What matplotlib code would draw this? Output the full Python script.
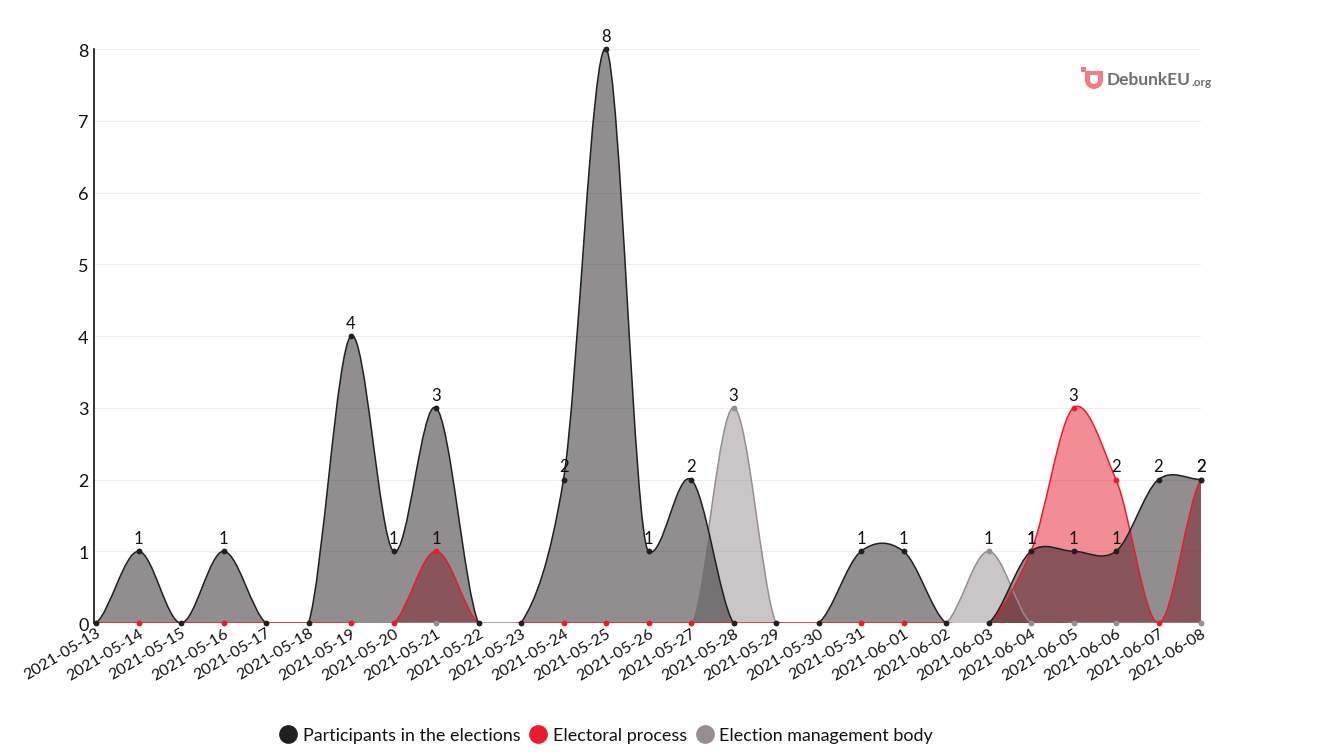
import numpy as np
import pandas as pd
import matplotlib
matplotlib.use("Agg")
import matplotlib.pyplot as plt
from matplotlib.path import Path
from matplotlib.patches import PathPatch, Rectangle, Wedge
from matplotlib.lines import Line2D
from matplotlib.transforms import ScaledTranslation

plt.rcParams['font.family'] = ['Lato', 'DejaVu Sans']

dates = [d.strftime('%Y-%m-%d') for d in pd.date_range('2021-05-13', '2021-06-08')]
participants = [0, 1, 0, 1, 0, 0, 4, 1, 3, 0, 0, 2, 8, 1, 2, 0, 0, 0, 1, 1, 0, 0, 1, 1, 1, 2, 2]
electoral    = [0, 0, 0, 0, 0, 0, 0, 0, 1, 0, 0, 0, 0, 0, 0, 0, 0, 0, 0, 0, 0, 0, 1, 3, 2, 0, 2]
management   = [0, 0, 0, 0, 0, 0, 0, 0, 0, 0, 0, 0, 0, 0, 0, 3, 0, 0, 0, 0, 0, 1, 0, 0, 0, 0, 0]
names = ['Participants in the elections', 'Electoral process', 'Election management body']
colors = ['#231F20', '#E71D2E', '#968D90']
series = [participants, electoral, management]

W, H = 1318, 755
fig = plt.figure(figsize=(W / 100, H / 100), dpi=100, facecolor='white')
L, R, T, B = 94, 1201, 49, 623
ax = fig.add_axes([L / W, 1 - B / H, (R - L) / W, (B - T) / H])
ax.set_xlim(-2 / 42.5, 26)
ax.set_ylim(0, 8)


def spline_verts(vals):
    """Cardinal spline through the values, as cubic Bezier segments; slopes at
    local extremes are limited so that a curve does not dive past its point."""
    y = np.asarray(vals, float)
    n = len(y)
    x = np.arange(n, dtype=float)
    m = np.zeros(n)
    for i in range(1, n - 1):
        d0, d1 = y[i] - y[i - 1], y[i + 1] - y[i]
        m[i] = (d0 + d1) / 2
        if d0 * d1 < 0:
            lim = min(abs(d0), abs(d1)) / 2
            m[i] = np.clip(m[i], -lim, lim)
    m[0] = (y[1] - y[0]) / 2
    m[-1] = (y[-1] - y[-2]) / 2
    m = m * 0.9
    verts = [(x[0], y[0])]
    codes = [Path.MOVETO]
    for i in range(n - 1):
        verts += [(x[i] + 1 / 3, y[i] + m[i] / 3),
                  (x[i + 1] - 1 / 3, y[i + 1] - m[i + 1] / 3),
                  (x[i + 1], y[i + 1])]
        codes += [Path.CURVE4] * 3
    return verts, codes


# drawn back to front: management, electoral, participants
order = [2, 1, 0]
for s in order:
    v, c = series[s], colors[s]
    verts, codes = spline_verts(v)
    fill_v = verts + [(len(v) - 1, 0), (0, 0), (0, 0)]
    fill_c = codes + [Path.LINETO, Path.LINETO, Path.CLOSEPOLY]
    ax.add_patch(PathPatch(Path(fill_v, fill_c), facecolor=c, edgecolor='none', alpha=0.5, zorder=2))
for s in order:
    verts, codes = spline_verts(series[s])
    ax.add_patch(PathPatch(Path(verts, codes), facecolor='none', edgecolor=colors[s], lw=1.1, zorder=3))

# markers: every non-zero value, and at each date the first series that is zero
arr = np.array(series)
for s in order:
    v, c = series[s], colors[s]
    xs, ys = [], []
    for i, val in enumerate(v):
        first_zero = np.argmax(arr[:, i] == 0) if np.any(arr[:, i] == 0) else -1
        if val > 0 or first_zero == s:
            xs.append(i)
            ys.append(val)
    ax.plot(xs, ys, ls='none', marker='o', ms=4.2, color=c, mec='none', zorder=5, clip_on=False)
    for xi, yi in zip(xs, ys):
        if yi > 0:
            ax.annotate(str(yi), (xi, yi), xytext=(0, 3), textcoords='offset points',
                        ha='center', va='bottom', fontsize=12, color='#111111',
                        zorder=6, annotation_clip=False)

ax.set_yticks(range(9))
ax.set_xticks(range(len(dates)))
ax.set_xticklabels(dates, rotation=31, ha='right', va='top', rotation_mode='anchor',
                   fontsize=11.5, color='#111111')
ax.tick_params(axis='x', length=0, pad=2.5)
ax.tick_params(axis='y', length=0, pad=4, labelsize=13, labelcolor='#111111')
shift = ScaledTranslation(0, -0.8 / 72, fig.dpi_scale_trans)
for lab in ax.get_yticklabels():
    lab.set_transform(lab.get_transform() + shift)
ax.grid(axis='y', color='#EDEDED', lw=0.8, zorder=0)
ax.set_axisbelow(True)
for sp in ['top', 'right', 'bottom']:
    ax.spines[sp].set_visible(False)
ax.spines['left'].set_linewidth(1.2)
ax.spines['left'].set_color('#111111')

# legend
handles = [Line2D([], [], ls='none', marker='o', ms=13.5, color=c, mec='none') for c in colors]
fig.legend(handles, names, loc='center', bbox_to_anchor=(606 / W, 1 - 735.5 / H), ncol=3, frameon=False,
           fontsize=12.9, handlelength=1.0, handletextpad=0.3, columnspacing=0.5, labelcolor='#111111')

# logo
pink = '#F47C80'
lg = fig.add_axes([0, 0, 1, 1], facecolor='none')
lg.set_xlim(0, W)
lg.set_ylim(H, 0)
lg.axis('off')
lg.add_patch(Rectangle((1081, 67), 5, 5, color=pink, lw=0))
lg.add_patch(Wedge((1094, 80), 9, 0, 180, color=pink, lw=0))
lg.add_patch(Rectangle((1085, 71), 18, 9.5, color=pink, lw=0))
lg.add_patch(Wedge((1094, 80), 4, 0, 180, color='white', lw=0))
lg.add_patch(Rectangle((1090, 75), 8, 5.2, color='white', lw=0))
lg.text(1107, 80, 'DebunkEU', fontsize=12.5, fontweight='bold', color='#6F6F6F', va='center', ha='left')
lg.text(1192, 82.5, '.org', fontsize=8.5, fontweight='bold', color='#6F6F6F', va='center', ha='left')

fig.savefig('out.png', dpi=100)
